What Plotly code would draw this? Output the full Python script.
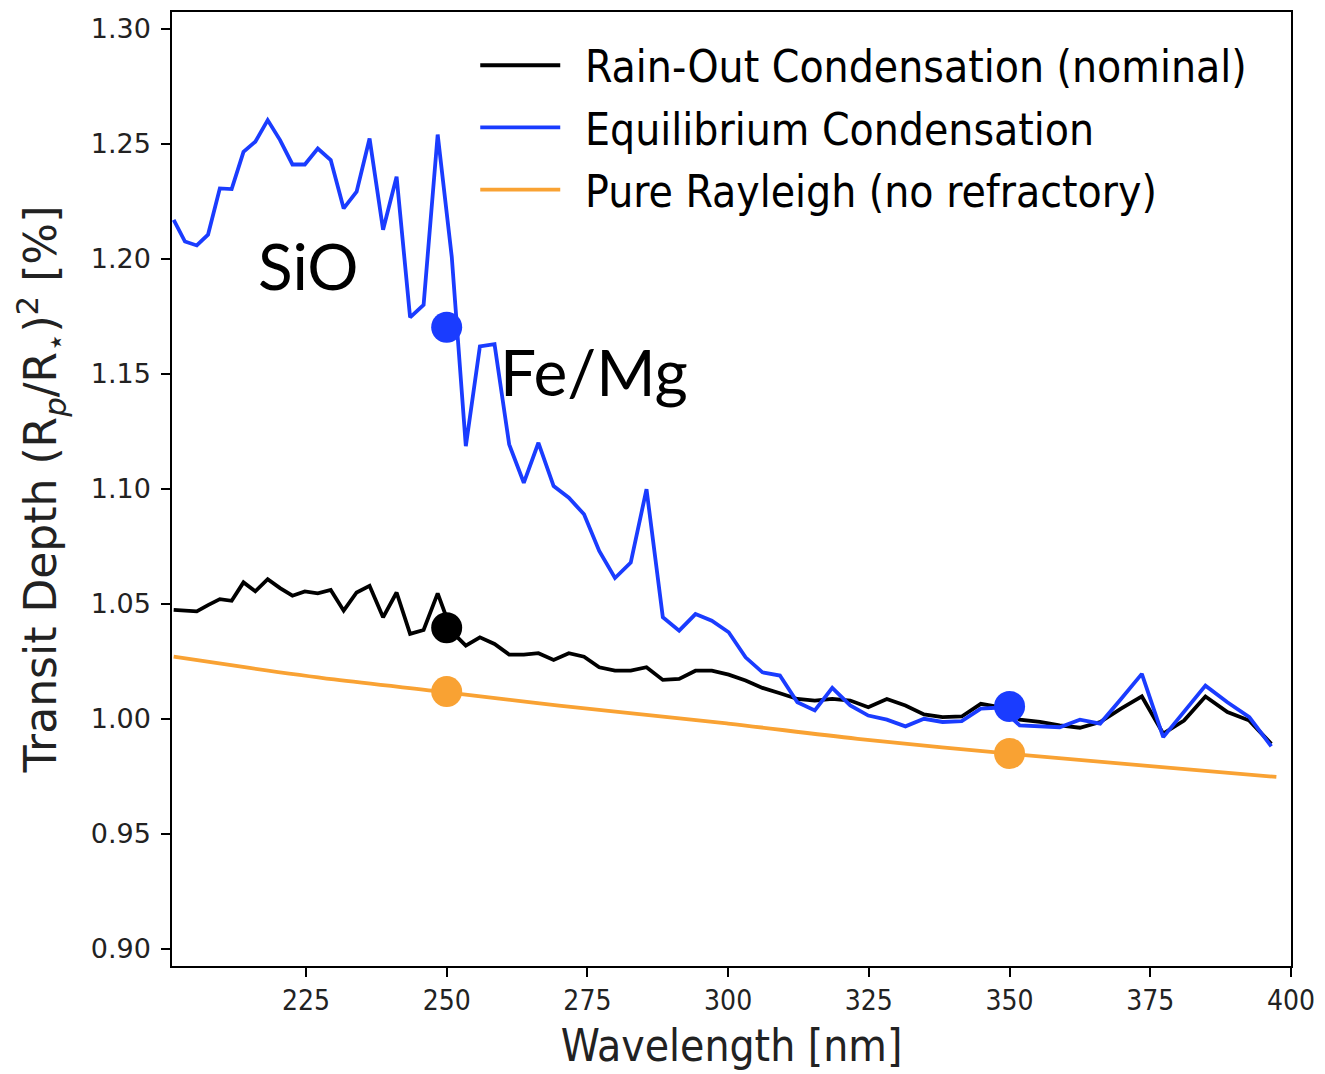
import plotly.graph_objects as go

# Wavelength grid [nm]
wavelength = [201.5, 203.5, 205.6, 207.6, 209.7, 211.8, 213.9, 216.0, 218.2, 220.4,
              222.6, 224.8, 227.1, 229.4, 231.7, 234.0, 236.3, 238.7, 241.1, 243.5,
              245.9, 248.4, 250.9, 253.4, 255.9, 258.5, 261.1, 263.7, 266.3, 269.0,
              271.7, 274.4, 277.1, 279.9, 282.7, 285.5, 288.4, 291.3, 294.2, 297.1,
              300.1, 303.1, 306.1, 309.2, 312.3, 315.4, 318.5, 321.7, 324.9, 328.2,
              331.5, 334.8, 338.1, 341.5, 344.9, 348.4, 351.8, 355.4, 358.9, 362.5,
              366.1, 369.8, 373.5, 377.3, 381.0, 384.8, 388.7, 392.6, 396.5]

equilibrium = [1.217, 1.2076, 1.2059, 1.2106, 1.2307, 1.2304, 1.2466, 1.251, 1.2604, 1.2517,
               1.2411, 1.2411, 1.248, 1.243, 1.222, 1.2293, 1.2524, 1.2127, 1.2358, 1.1746,
               1.1801, 1.2541, 1.201, 1.1186, 1.162, 1.163, 1.1194, 1.1027, 1.1201, 1.1013,
               1.0962, 1.089, 1.0731, 1.0613, 1.068, 1.0999, 1.0442, 1.0384, 1.0456, 1.0427,
               1.0377, 1.0268, 1.0203, 1.0189, 1.0073, 1.0037, 1.0135, 1.0059, 1.0015, 0.9997,
               0.9968, 1.0001, 0.9987, 0.9991, 1.0045, 1.005, 0.9972, 0.9968, 0.9964, 0.9997,
               0.998, 1.0087, 1.0196, 0.9921, 1.003, 1.0145, 1.0073, 1.0008, 0.9881]

rainout = [1.0474, 1.0471, 1.0468, 1.0495, 1.0521, 1.0514, 1.0594, 1.0555, 1.0608, 1.0569,
           1.0536, 1.0555, 1.0546, 1.0561, 1.0471, 1.055, 1.0579, 1.0442, 1.055, 1.037,
           1.0387, 1.0546, 1.038, 1.0319, 1.0355, 1.0326, 1.028, 1.028, 1.0286, 1.0257,
           1.0286, 1.0271, 1.0225, 1.021, 1.021, 1.0225, 1.017, 1.0174, 1.021, 1.021,
           1.0193, 1.0167, 1.0135, 1.0112, 1.0087, 1.008, 1.0087, 1.008, 1.0051, 1.0087,
           1.0059, 1.002, 1.0008, 1.0011, 1.0066, 1.0051, 0.9997, 0.9987, 0.9972, 0.9962,
           0.9987, 1.0045, 1.0098, 0.9936, 0.9993, 1.0098, 1.003, 0.9993, 0.9892]

rayleigh_wl = [201.5, 215.0, 230.0, 250.0, 265.0, 280.0, 300.0, 323.0, 350.0, 375.0, 397.4]
rayleigh = [1.0271, 1.0222, 1.0172, 1.0116, 1.0072, 1.0032, 0.9980, 0.9914, 0.9849, 0.9795, 0.9748]

series_names = ["Rain-Out Condensation (nominal)", "Equilibrium Condensation",
                "Pure Rayleigh (no refractory)"]
annotation_labels = ["SiO", "Fe/Mg"]
annotation_x = [225.4, 276.2]
annotation_y = [1.197, 1.151]

# highlighted points
pts_blue_x = [250, 350]
pts_blue_y = [1.1703, 1.0054]
pts_black_x = [250]
pts_black_y = [1.0397]
pts_orange_x = [250, 350]
pts_orange_y = [1.0119, 0.9850]

xtick_vals = [225, 250, 275, 300, 325, 350, 375, 400]
ytick_vals = [0.90, 0.95, 1.00, 1.05, 1.10, 1.15, 1.20, 1.25, 1.30]

BLACK = "#000000"
BLUE = "#1a3cff"
ORANGE = "#f9a233"
COND = "DejaVu Sans Condensed, Liberation Sans Narrow, DejaVu Sans, sans-serif"
LW = 3.8

fig = go.Figure()
fig.add_trace(go.Scatter(x=wavelength, y=rainout, mode="lines", line=dict(color=BLACK, width=LW),
                         name="\u2002" + series_names[0], legendgroup="a"))
fig.add_trace(go.Scatter(x=wavelength, y=equilibrium, mode="lines", line=dict(color=BLUE, width=LW),
                         name="\u2002" + series_names[1], legendgroup="b"))
fig.add_trace(go.Scatter(x=rayleigh_wl, y=rayleigh, mode="lines",
                         line=dict(color=ORANGE, width=LW, shape="spline"),
                         name="\u2002" + series_names[2], legendgroup="c"))
fig.add_trace(go.Scatter(x=pts_blue_x, y=pts_blue_y, mode="markers", marker=dict(color=BLUE, size=31),
                         showlegend=False))
fig.add_trace(go.Scatter(x=pts_black_x, y=pts_black_y, mode="markers", marker=dict(color=BLACK, size=31),
                         showlegend=False))
fig.add_trace(go.Scatter(x=pts_orange_x, y=pts_orange_y, mode="markers", marker=dict(color=ORANGE, size=31),
                         showlegend=False))

for lab, ax, ay in zip(annotation_labels, annotation_x, annotation_y):
    fig.add_annotation(x=ax, y=ay, text=lab, showarrow=False,
                       font=dict(family="Lato, Noto Sans, sans-serif", size=64, color="black"))

fig.update_layout(
    width=1325, height=1074,
    margin=dict(l=172, r=32, t=10, b=108),
    paper_bgcolor="white", plot_bgcolor="white",
    showlegend=True,
    legend=dict(x=0.271, y=0.981, xanchor="left", yanchor="top",
                font=dict(family=COND, size=44, color="black"),
                bgcolor="rgba(0,0,0,0)", itemwidth=80, tracegroupgap=2),
    xaxis=dict(range=[201.2, 400], tickvals=xtick_vals,
               ticks="outside", ticklen=9, tickwidth=1.5, tickcolor="black",
               showline=True, linecolor="black", linewidth=1.5, mirror=True,
               showgrid=False, zeroline=False,
               tickfont=dict(family=COND, size=28, color="#222"),
               title=dict(text="Wavelength [nm]", font=dict(family=COND, size=44, color="#222"), standoff=14)),
    yaxis=dict(range=[0.8926, 1.3074], tickvals=ytick_vals,
               tickformat=".2f", ticklabelstandoff=5,
               ticks="outside", ticklen=9, tickwidth=1.5, tickcolor="black",
               showline=True, linecolor="black", linewidth=1.5, mirror=True,
               showgrid=False, zeroline=False,
               tickfont=dict(family="DejaVu Sans, sans-serif", size=27, color="#222"),
               title=dict(text="Transit Depth (R<sub><i>p</i></sub>/R<sub>⋆</sub>)<sup>2</sup> [%]",
                          font=dict(family="DejaVu Sans, sans-serif", size=44, color="#222"), standoff=20)),
)

fig.write_html("out.html")
